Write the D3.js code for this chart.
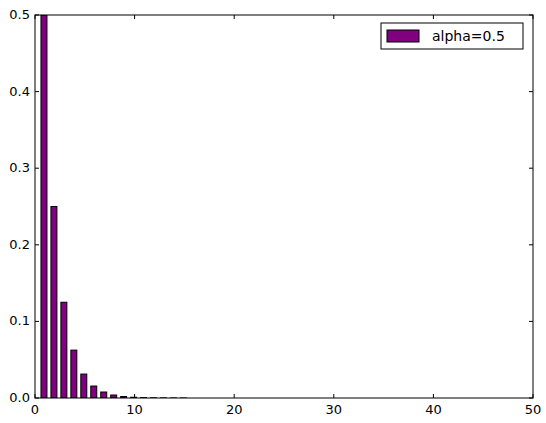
<!DOCTYPE html>
<html>
<head>
<meta charset="UTF-8">
<script src="https://cdnjs.cloudflare.com/ajax/libs/d3/7.8.5/d3.min.js"></script>
<style>body{margin:0;background:#fff}</style>
</head>
<body>
<div id="draw-here"></div>
<script>
var ks = [1,2,3,4,5,6,7,8,9,10,11,12,13,14,15];
var probs = [0.5,0.25,0.125,0.0625,0.03125,0.015625,0.0078125,0.00390625,0.001953125,0.0009765625,0.00048828125,0.000244140625,0.0001220703125,0.00006103515625,0.000030517578125];
var xTicks = [0,10,20,30,40,50];
var yTicks = [0,0.1,0.2,0.3,0.4,0.5];

var W = 546, H = 423;
var m = {l:35, r:13, t:15, b:25};
var x = d3.scaleLinear().domain([0,50]).range([m.l, W-m.r]);
var y = d3.scaleLinear().domain([0,0.5]).range([H-m.b, m.t]);

var svg = d3.select("#draw-here").append("svg").attr("width",W).attr("height",H)
  .style("font-family","DejaVu Sans").style("font-size","13px");

var clip = svg.append("clipPath").attr("id","c").append("rect")
  .attr("x",m.l).attr("y",m.t).attr("width",W-m.l-m.r).attr("height",H-m.t-m.b);

svg.append("g").attr("clip-path","url(#c)").selectAll("rect").data(ks).enter().append("rect")
  .attr("x", function(d){ return x(d-0.4); })
  .attr("width", x(0.6)-x(0))
  .attr("y", function(d,i){ return y(probs[i]); })
  .attr("height", function(d,i){ return y(0)-y(probs[i]); })
  .attr("fill","purple").attr("stroke","#000").attr("stroke-width",1);

svg.append("rect").attr("x",m.l).attr("y",m.t).attr("width",W-m.l-m.r).attr("height",H-m.t-m.b)
  .attr("fill","none").attr("stroke","#000");

// ticks inside, both sides
xTicks.forEach(function(t){
  svg.append("line").attr("x1",x(t)).attr("x2",x(t)).attr("y1",y(0)).attr("y2",y(0)-4).attr("stroke","#000");
  svg.append("line").attr("x1",x(t)).attr("x2",x(t)).attr("y1",m.t).attr("y2",m.t+4).attr("stroke","#000");
  svg.append("text").attr("x",x(t)).attr("y",y(0)+16).attr("text-anchor","middle").text(t);
});
yTicks.forEach(function(t){
  svg.append("line").attr("x1",m.l).attr("x2",m.l+4).attr("y1",y(t)).attr("y2",y(t)).attr("stroke","#000");
  svg.append("line").attr("x1",W-m.r).attr("x2",W-m.r-4).attr("y1",y(t)).attr("y2",y(t)).attr("stroke","#000");
  svg.append("text").attr("x",m.l-5).attr("y",y(t)+4).attr("text-anchor","end").text(d3.format(".1f")(t));
});

// legend
var lg = svg.append("g");
lg.append("rect").attr("x",381).attr("y",23).attr("width",142).attr("height",26).attr("fill","#fff").attr("stroke","#000");
lg.append("rect").attr("x",387).attr("y",30).attr("width",32).attr("height",12).attr("fill","purple").attr("stroke","#000");
lg.append("text").attr("x",432).attr("y",41).style("font-size","14px").text("alpha=0.5");
</script>
</body>
</html>
